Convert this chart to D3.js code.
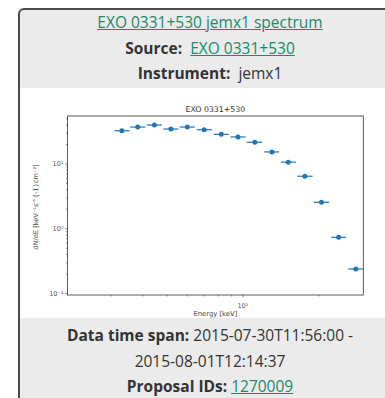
<!DOCTYPE html>
<html>
<head>
<meta charset="utf-8">
<script src="https://cdn.jsdelivr.net/npm/d3@7"></script>
<style>
  html, body { margin: 0; padding: 0; background: #fff; overflow: hidden; }
  body { width: 385px; height: 398px; position: relative; font-family: "Open Sans", sans-serif; color: #333; }
  .card { position: absolute; left: 18px; top: 8px; width: 380px; height: 400px;
          border: 2px solid #4a4a4a; border-radius: 6px; background: #ebebeb; }
  .lines { position: absolute; left: 0; width: 380px; text-align: center; font-size: 15.5px; line-height: 25.5px; }
  .head { top: 0; }
  .foot { top: 313px; }
  a { color: #21896b; text-decoration: underline; }
  b { font-weight: 700; }
  svg { position: absolute; left: 0; top: 0; }
</style>
</head>
<body>
<div class="card">
  <div class="lines head">
    <div><a>EXO 0331+530 jemx1 spectrum</a></div>
    <div><b>Source:</b>&nbsp; <a>EXO 0331+530</a></div>
    <div><b>Instrument:</b>&nbsp; jemx1</div>
  </div>
  <div class="lines foot">
    <div><b>Data time span:</b> 2015-07-30T11:56:00 -</div>
    <div>2015-08-01T12:14:37</div>
    <div><b>Proposal IDs:</b> <a>1270009</a></div>
  </div>
</div>
<svg id="chart" width="385" height="398"></svg>
<script>
// spectrum points (keV, flux)
const energy = [3.32, 3.84, 4.47, 5.20, 6.04, 7.05, 8.24, 9.60, 11.2, 13.1, 15.2, 17.7, 20.6, 24.1, 28.2];
const eLo    = [3.10, 3.58, 4.17, 4.85, 5.63, 6.58, 7.69, 8.96, 10.4, 12.2, 14.2, 16.5, 19.2, 22.5, 26.3];
const eHi    = [3.56, 4.12, 4.79, 5.57, 6.47, 7.56, 8.83, 10.3, 12.0, 14.0, 16.3, 19.0, 22.1, 25.8, 30.2];
const flux   = [32.1, 36.6, 39.3, 34.1, 36.6, 33.3, 28.2, 25.7, 21.3, 15.1, 10.5, 6.36, 2.52, 0.724, 0.235];

const xMajor = [10];
const xMinor = [3, 4, 5, 6, 7, 8, 9, 20];
const yMajor = [0.1, 1, 10];
const yLabels = ['10\u207B\u00B9', '10\u2070', '10\u00B9'];
const yMinor = [0.2, 0.3, 0.4, 0.5, 0.6, 0.7, 0.8, 0.9, 2, 3, 4, 5, 6, 7, 8, 9, 20, 30, 40, 50];

const data = energy.map((e, i) => ({ e, lo: eLo[i], hi: eHi[i], f: flux[i] }));

const svg = d3.select('#chart');

// white figure area inside the card
svg.append('rect')
    .attr('x', 20).attr('y', 88)
    .attr('width', 365).attr('height', 230)
    .attr('fill', '#fff');

const plot = { left: 67.5, right: 363.3, top: 116, bottom: 295 };

const x = d3.scaleLog()
    .domain([2.02, 30.2])
    .range([plot.left, plot.right]);

const y = d3.scaleLog()
    .domain([0.093, 54.2])
    .range([plot.bottom, plot.top]);

const tickColor = '#444';

// x axis
const gx = svg.append('g')
    .attr('transform', `translate(0,${plot.bottom})`);
gx.call(d3.axisBottom(x).tickValues(xMajor).tickSize(2.5).tickFormat(() => '10\u00B9'));
gx.append('g').call(d3.axisBottom(x).tickValues(xMinor).tickSize(1.5).tickFormat(''));

// y axis
const gy = svg.append('g')
    .attr('transform', `translate(${plot.left},0)`);
gy.call(d3.axisLeft(y).tickValues(yMajor).tickSize(2.5).tickFormat((d, i) => yLabels[i]));
gy.append('g').call(d3.axisLeft(y).tickValues(yMinor).tickSize(1.5).tickFormat(''));

svg.selectAll('.domain').remove();
svg.selectAll('.tick line').attr('stroke', tickColor).attr('stroke-width', 0.6);
svg.selectAll('.tick text')
    .attr('fill', '#555')
    .attr('font-family', 'DejaVu Sans, sans-serif')
    .attr('font-size', 6.5);
gx.selectAll('.tick text').attr('dy', '1.1em');
gy.selectAll('.tick text').attr('x', -4);

// frame
svg.append('rect')
    .attr('x', plot.left).attr('y', plot.top)
    .attr('width', plot.right - plot.left)
    .attr('height', plot.bottom - plot.top)
    .attr('fill', 'none')
    .attr('stroke', '#333')
    .attr('stroke-width', 0.8);

// error bars and markers
const marks = svg.append('g');
marks.selectAll('line')
    .data(data)
    .join('line')
    .attr('x1', d => x(d.lo))
    .attr('x2', d => x(d.hi))
    .attr('y1', d => y(d.f))
    .attr('y2', d => y(d.f))
    .attr('stroke', '#1f77b4')
    .attr('stroke-width', 1.2);
marks.selectAll('circle')
    .data(data)
    .join('circle')
    .attr('cx', d => x(d.e))
    .attr('cy', d => y(d.f))
    .attr('r', 2.5)
    .attr('fill', '#1f77b4');

// labels
const lab = svg.append('g')
    .attr('font-family', 'DejaVu Sans, sans-serif')
    .attr('fill', '#444')
    .attr('text-anchor', 'middle');
lab.append('text')
    .attr('x', (plot.left + plot.right) / 2).attr('y', 112)
    .attr('font-size', 7.8)
    .attr('fill', '#333')
    .text('EXO 0331+530');
lab.append('text')
    .attr('x', (plot.left + plot.right) / 2).attr('y', 316)
    .attr('font-size', 6.8)
    .text('Energy [keV]');
lab.append('text')
    .attr('transform', 'translate(38,207) rotate(-90)')
    .attr('font-size', 6.6)
    .text('dN/dE [keV\u207B\u00B9s^{-1}cm\u207B\u00B2]');
</script>
</body>
</html>
